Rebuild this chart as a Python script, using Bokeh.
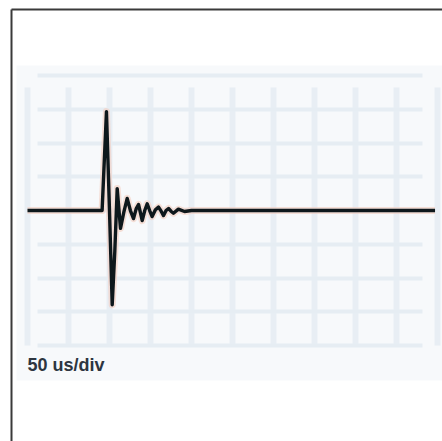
from bokeh.plotting import figure
from bokeh.models import Range1d, FixedTicker, Label, BoxAnnotation
from bokeh.embed import file_html
from bokeh.resources import INLINE

# Time axis: microseconds (50 us/div), vertical axis: divisions
t_us = [0, 91, 96.3, 100, 103.3, 106.5, 109.4, 113.4, 117.5, 121.6, 125.5, 129.3,
        132.5, 135.4, 139.9, 143, 146, 149, 152, 156, 159.8, 163, 165.9, 169,
        172, 175, 178, 184, 191.5, 200, 300, 400, 497]
v_div = [0, 0, 2.93, 0, -2.79, -1.2, 0.65, -0.53, -0.05, 0.36, 0.0, -0.24,
         0.05, 0.18, -0.3, 0.0, 0.2, 0.0, -0.18, 0.02, 0.1, -0.02, -0.15, 0.0,
         0.06, -0.02, -0.08, 0.04, -0.03, 0, 0, 0, 0]

x_div_ticks = [0, 50, 100, 150, 200, 250, 300, 350, 400, 450, 500]
y_div_ticks = [-4, -3, -2, -1, 0, 1, 2, 3, 4]
scale_label = "50 us/div"

p = figure(width=442, height=441, output_backend="svg", toolbar_location=None,
           x_axis_location="above", y_axis_location="left",
           x_range=Range1d(-19.5, 506.1), y_range=Range1d(-6.844, 5.956),
           min_border_left=11, min_border_top=9, min_border_right=0, min_border_bottom=0)
p.background_fill_color = "white"
p.border_fill_color = "white"
p.outline_line_color = None

for ax in (p.xaxis[0], p.yaxis[0]):
    ax.ticker = FixedTicker(ticks=[])
    ax.major_tick_line_color = None
    ax.minor_tick_line_color = None
    ax.major_tick_out = 0
    ax.major_tick_in = 0
    ax.minor_tick_out = 0
    ax.minor_tick_in = 0
    ax.major_label_standoff = 0
    ax.major_label_text_font_size = "0px"
    ax.axis_line_color = "#3a3a3a"
    ax.axis_line_width = 2

# faint screen tint (below the grid)
p.add_layout(BoxAnnotation(left=-13.4, top=4.296, bottom=-5.037,
                           fill_color="#f7f9fb", fill_alpha=1.0, line_color=None,
                           level="image"))

p.xgrid.ticker = FixedTicker(ticks=x_div_ticks)
p.ygrid.ticker = FixedTicker(ticks=y_div_ticks)
p.xgrid.grid_line_color = "#e8eef4"
p.xgrid.grid_line_width = 6
p.ygrid.grid_line_color = "#e6edf3"
p.ygrid.grid_line_width = 4
try:
    p.xgrid.cross_bounds = (-4.0, 3.65)
    p.ygrid.cross_bounds = (12.2, 481.7)
except Exception:
    pass

# waveform with a faint halo
p.line(t_us, v_div, line_color="#f3cdbf", line_width=7, line_alpha=0.6, line_join="round")
p.line(t_us, v_div, line_color="#0e181c", line_width=3.4, line_join="round")

p.add_layout(Label(x=0, y=-4.59, text=scale_label, text_align="left",
                   text_baseline="middle", text_font="Liberation Sans",
                   text_font_size="18px", text_font_style="bold",
                   text_color="#2d3540"))

open("out.html", "w").write(file_html(p, INLINE))
